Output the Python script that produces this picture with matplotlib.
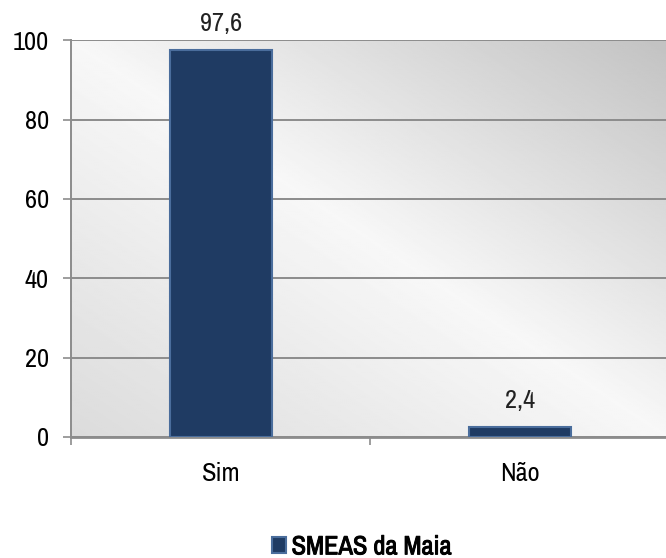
import matplotlib
matplotlib.use("Agg")
import matplotlib.pyplot as plt
import matplotlib.patheffects as pe
import numpy as np
from matplotlib import font_manager

categories = ["Sim", "Não"]
values = [97.6, 2.4]
series_name = "SMEAS da Maia"
yticks = [0, 20, 40, 60, 80, 100]

# Arial Narrow look-alike: take the first condensed family that exists
names = {f.name for f in font_manager.fontManager.ttflist}
wanted = ["Liberation Sans Narrow", "Arial Narrow", "Archivo Narrow",
          "Roboto Condensed", "Barlow Condensed"]
family = next((n for n in wanted if n in names), "DejaVu Sans")
plt.rcParams["font.family"] = [family, "DejaVu Sans"]
plt.rcParams["font.stretch"] = "condensed"

fig = plt.figure(figsize=(6.66, 5.58), dpi=100)
ax = fig.add_axes([0.107, 0.217, 0.898, 0.711])

# gradient background: light along the diagonal, darker toward top-right
gx, gy = np.meshgrid(np.linspace(0, 1, 300), np.linspace(0, 1, 300))
t = (gx + gy) / 2
shade = np.where(t < 0.5, 0.86 + 0.11 * (t / 0.5), 0.97 - 0.21 * ((t - 0.5) / 0.5))
ax.imshow(shade, cmap="gray", vmin=0, vmax=1, origin="lower",
          extent=[-0.5, 1.5, 0, 100], aspect="auto", zorder=0,
          interpolation="bilinear")

x = np.arange(len(categories))
bars = ax.bar(x, values, width=0.34, color="#1f3b63", edgecolor="#4a6d9c",
              linewidth=1.5, zorder=3, label=series_name)

for b, v in zip(bars, values):
    ax.text(b.get_x() + b.get_width() / 2, v + 3.8, f"{v:.1f}".replace(".", ","),
            ha="center", va="bottom", fontsize=19, color="#222222")

ax.set_xlim(-0.5, 1.5)
ax.set_ylim(0, 100)
ax.set_yticks(yticks)
ax.set_yticklabels([str(v) for v in yticks], fontsize=19)
ax.yaxis.grid(True, color="#8c8c8c", linewidth=1.4, zorder=1)
ax.set_axisbelow(True)

ax.set_xticks(x)
ax.set_xticklabels(categories, fontsize=19)
ax.tick_params(axis="x", length=0, pad=18)
ax.set_xticks([-0.5, 0.5, 1.5], minor=True)
ax.tick_params(axis="x", which="minor", length=6, color="#8c8c8c", width=1.2)
ax.tick_params(axis="y", length=6, color="#8c8c8c", width=1.2, pad=10)

for s in ["top", "right"]:
    ax.spines[s].set_visible(False)
ax.spines["left"].set_color("#8c8c8c")
ax.spines["left"].set_linewidth(1.4)
ax.spines["bottom"].set_color("#8c8c8c")
ax.spines["bottom"].set_linewidth(2)

leg = fig.legend(loc="center", bbox_to_anchor=(0.543, 0.02), frameon=False,
                 handlelength=0.55, handleheight=0.55, handletextpad=0.2,
                 prop={"size": 19, "family": [family, "DejaVu Sans"],
                       "stretch": "condensed"})
# the narrow family has no bold face, so thicken the strokes
for txt in leg.get_texts():
    txt.set_path_effects([pe.withStroke(linewidth=0.7, foreground="black")])

fig.savefig("out.png", dpi=100)
